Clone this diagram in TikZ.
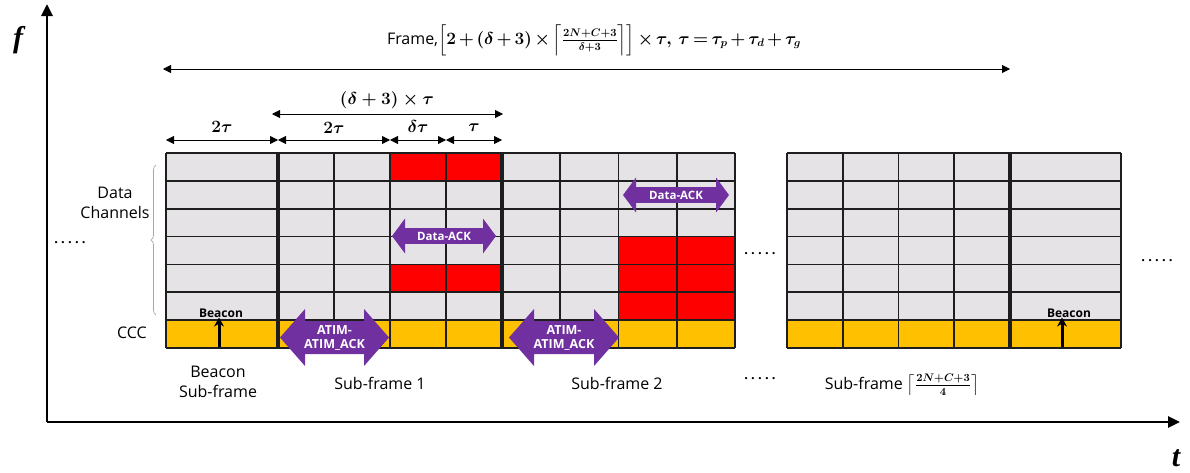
\documentclass[tikz,border=0pt]{standalone}
\usepackage{amsmath,bm}
\usepackage[no-math]{fontspec}
\setmainfont{Open Sans}
\newfontfamily\serifbi{Liberation Serif}
\usetikzlibrary{arrows.meta,decorations.pathreplacing}
\definecolor{cellgray}{HTML}{E6E3E6}
\definecolor{cccol}{HTML}{FFC000}
\definecolor{redcell}{HTML}{FF0000}
\definecolor{purp}{HTML}{7030A0}
\definecolor{gridc}{HTML}{1E1E1E}
\newcommand\dblarrow[6]{%
  \fill[purp] (#1,#3) -- (#1+#6,#3-#5) -- (#1+#6,#3-#4) -- (#2-#6,#3-#4) -- (#2-#6,#3-#5) -- (#2,#3)
   -- (#2-#6,#3+#5) -- (#2-#6,#3+#4) -- (#1+#6,#3+#4) -- (#1+#6,#3+#5) -- cycle;}
\newcommand\frameformula{\mbox{Frame,{\fontsize{16}{19}\selectfont\medmuskip=2.5mu\thickmuskip=3mu\boldmath$\left[2+(\delta+3)\times\left\lceil\frac{2N+C+3}{\delta+3}\right\rceil\right]\times\tau,\,\tau=\tau_p+\tau_d+\tau_g$}}}
\newcommand\lastsf{\mbox{Sub-frame {\boldmath$\left\lceil\frac{2N+C+3}{4}\right\rceil$}}}
\newcommand\bmth[1]{\mbox{\boldmath$#1$}}
\newcommand\fivedots{\mbox{.\hspace{3.2pt}.\hspace{3.2pt}.\hspace{3.2pt}.\hspace{3.2pt}.}}
\begin{document}
\begin{tikzpicture}[x=1pt,y={(0pt,-1pt)},
  gl/.style={draw=gridc,line width=1.8pt},
  thk/.style={draw=gridc,line width=3.2pt},
  dim/.style={{Triangle[length=8pt,width=8pt]}-{Triangle[length=8pt,width=8pt]},line width=0.8pt},
  lbl/.style={font=\fontsize{16}{20}\selectfont,inner sep=0pt},
  dlbl/.style={font=\fontsize{18}{20}\selectfont,inner sep=0pt},
  arrtxt/.style={text=white,font=\bfseries\fontsize{12.5}{14.5}\selectfont,align=center,inner sep=0pt},
  arrtxts/.style={text=white,font=\bfseries\fontsize{11.5}{14}\selectfont,inner sep=0pt},
  bea/.style={font=\bfseries\fontsize{12}{14}\selectfont,inner sep=0pt},
  dots/.style={font=\bfseries\fontsize{13}{16}\selectfont,inner sep=0pt}]
\useasboundingbox (0,0) rectangle (1190,472);
\fill[white] (0,0) rectangle (1190,472);
% axes
\coordinate (o) at (47,422);
\coordinate (ftop) at (47,4);
\coordinate (tend) at (1180,422);
\draw[line width=2.8pt,-{Triangle[length=12pt,width=11pt]}] (o) -- (ftop);
\draw[line width=2.8pt,-{Triangle[length=12pt,width=11pt]}] (o) -- (tend);
\node[font=\serifbi\bfseries\itshape\fontsize{30}{32}\selectfont] (f) at (18,40) {f};
\node[font=\serifbi\bfseries\itshape\fontsize{30}{32}\selectfont] (t) at (1176,458) {t};
% cells: left block
\fill[cellgray] (166,153) rectangle (735,320);
\fill[cccol] (166,320) rectangle (735,348);
\fill[redcell] (390,153) rectangle (502,181);
\fill[redcell] (390,264.4) rectangle (502,292.3);
\fill[redcell] (618.5,236.6) rectangle (735,320.2);
\foreach \yy in {153,180.86,208.71,236.57,264.43,292.29,320.14,348}{
  \draw[gl] (166,\yy) -- (735,\yy);}
\foreach \xx in {166,334,390,446,560.25,618.5,676.75,735}{
  \draw[gl] (\xx,153) -- (\xx,348);}
\foreach \xx in {278,502}{\draw[thk] (\xx,153) -- (\xx,348);}
% right block
\fill[cellgray] (787,153) rectangle (1121,320);
\fill[cccol] (787,320) rectangle (1121,348);
\foreach \yy in {153,180.86,208.71,236.57,264.43,292.29,320.14,348}{
  \draw[gl] (787,\yy) -- (1121,\yy);}
\foreach \xx in {787,842.75,898.5,954.25,1121}{
  \draw[gl] (\xx,153) -- (\xx,348);}
\draw[thk] (1010,153) -- (1010,348);
% beacon arrows
\node[bea] (b1) at (221,313) {Beacon};
\node[bea] (b2) at (1069,313) {Beacon};
\coordinate (b1s) at (219,347);
\coordinate (b2s) at (1062,347);
\draw[line width=3pt,-{Stealth[length=9pt,width=10pt]}] (b1s) -- (b1.south -| b1s);
\draw[line width=3pt,-{Stealth[length=9pt,width=10pt]}] (b2s) -- (b2.south -| b2s);
% purple double arrows
\dblarrow{280}{389}{337.5}{16.5}{28.5}{25}
\dblarrow{509}{619}{337.5}{16.5}{28.5}{25}
\dblarrow{392}{496}{236}{7.8}{17.5}{13}
\dblarrow{623}{729}{195}{7.8}{17.5}{13}
\node[arrtxt] (at1) at (334.5,338) {ATIM-\\ATIM\_ACK};
\node[arrtxt] (at2) at (564,338) {ATIM-\\ATIM\_ACK};
\node[arrtxts] (da1) at (444,236.5) {Data-ACK};
\node[arrtxts] (da2) at (676,195.5) {Data-ACK};
% left labels
\node[lbl,align=center] (dc) at (115,203) {Data\\Channels};
\draw[gray!70,line width=0.7pt,decorate,decoration={brace,amplitude=5pt}] (156,315) -- (156,165);
\node[dots] (d1) at (70,243) {\fivedots};
\node[lbl] (ccc) at (132,333) {CCC};
% bottom labels
\node[lbl,align=center] (bsf) at (218,382) {Beacon\\Sub-frame};
\node[lbl] (sf1) at (380,383) {Sub-frame 1};
\node[lbl] (sf2) at (617,383) {Sub-frame 2};
\node[dots] (d2) at (760,379) {\fivedots};
\node[dots] (d3) at (760,254) {\fivedots};
\node[dots] (d4) at (1157,261) {\fivedots};
\node[lbl] (sfn) at (902,385) {\lastsf};
% top formula and frame arrow
\node[lbl] (frm) at (594,40) {\frameformula};
\coordinate (fa) at (163,69);
\coordinate (fb) at (1010,69);
\draw[dim] (fa) -- (fb);
% dimension arrows
\coordinate (u1) at (272,114);
\coordinate (u2) at (503,114);
\draw[dim] (u1) -- (u2);
\node[dlbl] (ul) at (387,100) {\bmth{(\delta+3)\times\tau}};
\coordinate (p0) at (166,140);
\coordinate (p1) at (278,140);
\coordinate (p2) at (390,140);
\coordinate (p3) at (446,140);
\coordinate (p4) at (502,140);
\draw[dim] (p0) -- (p1);
\draw[dim] (p1) -- (p2);
\draw[dim] (p2) -- (p3);
\draw[dim] (p3) -- (p4);
\node[dlbl] (l1) at (222,127) {\bmth{2\tau}};
\node[dlbl] (l2) at (334,128) {\bmth{2\tau}};
\node[dlbl] (l3) at (418,126) {\bmth{\delta\tau}};
\node[dlbl] (l4) at (474,128) {\bmth{\tau}};
\end{tikzpicture}
\end{document}
